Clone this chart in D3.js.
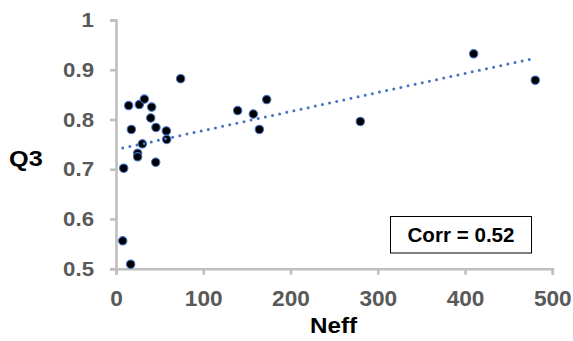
<!DOCTYPE html>
<html>
<head>
<meta charset="utf-8">
<script src="https://cdn.jsdelivr.net/npm/d3@7"></script>
<style>
  html, body { margin: 0; padding: 0; background: #fff; }
  svg { display: block; font-family: Arial, "Liberation Sans", sans-serif; }
</style>
</head>
<body>
<svg id="chart" width="573" height="341"></svg>
<script>
// ---- data ----
const neff = [74.1, 14.5, 26.7, 32.5, 40.9, 39.8, 45.8, 57.7, 58.1, 17.6, 30.2, 24.8,
              24.8, 45.5, 8.8, 7.7, 16.8, 139.4, 157.4, 172.7, 164.3, 280, 409.9, 480.5];
const q3   = [0.882, 0.828, 0.830, 0.841, 0.825, 0.803, 0.784, 0.777, 0.760, 0.780, 0.751, 0.732,
              0.725, 0.714, 0.702, 0.556, 0.509, 0.818, 0.811, 0.840, 0.780, 0.796, 0.932, 0.879];
const xTicks = [0, 100, 200, 300, 400, 500];
const yTicks = [0.5, 0.6, 0.7, 0.8, 0.9, 1];
const xTitle = "Neff";
const yTitle = "Q3";
const corrLabel = "Corr = 0.52";

const svg = d3.select("#chart");
const x = d3.scaleLinear().domain([0, 500]).range([116, 552.3]);
const y = d3.scaleLinear().domain([0.5, 1]).range([268.7, 20]);

const axisColor = "#bfbfbf";
const labelColor = "#595959";

function styleAxis(g, sx) {
  g.select(".domain").attr("stroke", axisColor).attr("stroke-width", 2.6);
  g.selectAll(".tick line").attr("stroke", axisColor).attr("stroke-width", 2.6);
  g.selectAll(".tick text")
    .attr("fill", labelColor)
    .attr("font-weight", "bold")
    .each(function() {
      const t = d3.select(this);
      const tx = +t.attr("x") || 0, ty = +t.attr("y") || 0;
      t.attr("x", 0).attr("y", 0)
       .attr("transform", `translate(${tx},${ty}) scale(${sx},1)`);
    });
}

// y axis
const yAxis = svg.append("g")
  .attr("transform", `translate(${x(0)},0)`)
  .call(d3.axisLeft(y).tickValues(yTicks).tickSize(6).tickSizeOuter(6).tickPadding(16)
        .tickFormat(d => d3.format("")(d)))
  .attr("font-size", 21).attr("font-family", null);
styleAxis(yAxis, 1.06);

// x axis
const xAxis = svg.append("g")
  .attr("transform", `translate(0,${y(0.5)})`)
  .call(d3.axisBottom(x).tickValues(xTicks).tickSize(6).tickSizeOuter(6).tickPadding(6)
        .tickFormat(d3.format("d")))
  .attr("font-size", 22).attr("font-family", null);
xAxis.selectAll(".tick text").attr("dy", "1.15em");
styleAxis(xAxis, 1.03);

// points
const pts = neff.map((v, i) => ({x: v, y: q3[i]}));
svg.append("g").selectAll("circle")
  .data(pts).join("circle")
  .attr("cx", d => x(d.x)).attr("cy", d => y(d.y))
  .attr("r", 4.2)
  .attr("fill", "#000")
  .attr("stroke", "#4472C4")
  .attr("stroke-width", 1.1);

// linear trendline (least squares)
const mx = d3.mean(neff), my = d3.mean(q3);
let sxy = 0, sxx = 0;
neff.forEach((v, i) => { sxy += (v - mx) * (q3[i] - my); sxx += (v - mx) * (v - mx); });
const slope = sxy / sxx, icpt = my - slope * mx;
const [x0, x1] = d3.extent(neff);
svg.append("path")
  .attr("d", d3.line().x(d => x(d)).y(d => y(icpt + slope * d))([x0, x1]))
  .attr("fill", "none")
  .attr("stroke", "#4472C4")
  .attr("stroke-width", 3)
  .attr("stroke-linecap", "round")
  .attr("stroke-dasharray", "0,7.3");

// axis titles
svg.append("text")
  .attr("transform", "translate(9,166) scale(1.15,1)")
  .attr("font-size", 22).attr("font-weight", "bold").attr("fill", "#000")
  .text(yTitle);
svg.append("text")
  .attr("transform", "translate(333.5,333) scale(1.1,1)")
  .attr("text-anchor", "middle")
  .attr("font-size", 22).attr("font-weight", "bold").attr("fill", "#000")
  .text(xTitle);

// correlation box
svg.append("rect")
  .attr("x", 390.5).attr("y", 216.5).attr("width", 141).attr("height", 36.5)
  .attr("fill", "#fff").attr("stroke", "#000").attr("stroke-width", 1);
svg.append("text")
  .attr("transform", "translate(461,242) scale(1.03,1)")
  .attr("text-anchor", "middle")
  .attr("font-size", 20).attr("font-weight", "bold").attr("fill", "#000")
  .text(corrLabel);
</script>
</body>
</html>
